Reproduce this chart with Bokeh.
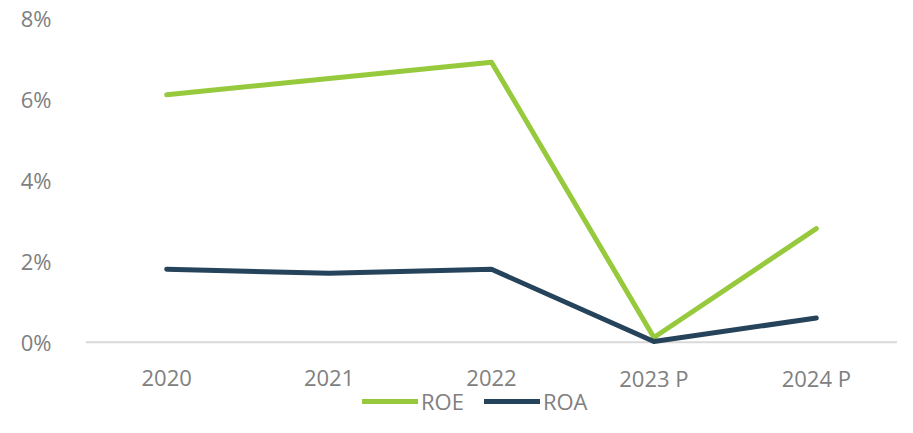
from bokeh.plotting import figure
from bokeh.models import (Legend, LegendItem, Range1d, FixedTicker, Span,
                          CustomJSTickFormatter)
from bokeh.core.properties import value
from bokeh.embed import file_html
from bokeh.resources import INLINE

years = ["2020", "2021", "2022", "2023 P", "2024 P"]
roe = [6.1, 6.5, 6.9, 0.12, 2.8]
roa = [1.8, 1.7, 1.8, 0.02, 0.6]
y_ticks = [0, 2, 4, 6, 8]

FONT = "Open Sans"
GREY = "#808080"
FS = "22px"

# frame covers plot + category labels + legend band (below y=0)
p = figure(x_range=years, y_range=Range1d(-1.85, 8), width=897, height=417,
           output_backend="svg", toolbar_location=None,
           min_border_left=85, min_border_right=0, min_border_top=17, min_border_bottom=0)
p.outline_line_color = None
p.xgrid.grid_line_color = None
p.ygrid.grid_line_color = None
p.x_range.range_padding = 0
p.xaxis.visible = False

p.add_layout(Span(location=0, dimension="width", line_color="#d9d9d9", line_width=2,
                  level="underlay"))

r1 = p.line(years, roe, line_color="#97C93D", line_width=5, line_cap="round", line_join="round")
r2 = p.line(years, roa, line_color="#25435A", line_width=5, line_cap="round", line_join="round")

# category labels
p.text(x=years, y=[-0.88] * len(years), text=years, text_font=value(FONT),
       text_font_size=value(FS), text_color=GREY, text_align="center",
       text_baseline="middle")

yax = p.yaxis[0]
yax.ticker = FixedTicker(ticks=y_ticks)
yax.formatter = CustomJSTickFormatter(code="return tick + '%';")
yax.axis_line_color = None
yax.major_tick_line_color = None
yax.minor_tick_line_color = None
yax.major_label_text_font = FONT
yax.major_label_text_font_size = FS
yax.major_label_text_color = GREY
yax.major_label_standoff = 28

legend = Legend(items=[LegendItem(label="ROE", renderers=[r1]),
                       LegendItem(label="ROA", renderers=[r2])],
                orientation="horizontal", location=(277, 1),
                label_text_font=FONT, label_text_font_size=FS, label_text_color=GREY,
                glyph_width=56, glyph_height=20, label_standoff=3, spacing=20,
                padding=0, margin=0, border_line_color=None, background_fill_alpha=0)
p.add_layout(legend, "center")

open("out.html", "w").write(file_html(p, INLINE))
